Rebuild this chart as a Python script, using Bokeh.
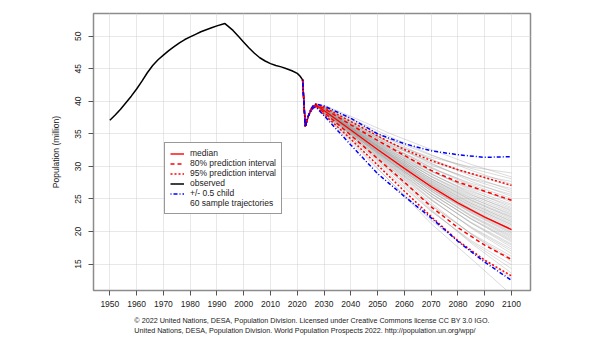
import math
from bokeh.plotting import figure
from bokeh.models import Range1d, FixedTicker, Legend, LegendItem, Title
from bokeh.embed import file_html
from bokeh.resources import INLINE

FONT = "Liberation Sans"

# ---------------- data ----------------
obs_years = [1950, 1952, 1954, 1956, 1958, 1960, 1962, 1964, 1966, 1968, 1970,
             1972, 1974, 1976, 1978, 1980, 1982, 1984, 1986, 1988, 1990, 1992,
             1993, 1994, 1996, 1998, 2000, 2002, 2004, 2006, 2008, 2010, 2012,
             2014, 2016, 2018, 2020, 2021, 2022]
obs_pop = [37.1, 37.9, 38.8, 39.8, 40.8, 41.9, 43.1, 44.4, 45.5, 46.4, 47.1,
           47.8, 48.4, 49.0, 49.5, 49.9, 50.3, 50.7, 51.0, 51.3, 51.6, 51.85,
           51.95, 51.6, 50.9, 50.0, 49.1, 48.2, 47.4, 46.7, 46.2, 45.8, 45.5,
           45.3, 45.0, 44.7, 44.3, 43.9, 43.3]

proj_years = [2022, 2023, 2024, 2025, 2026, 2027, 2030, 2040, 2050, 2060, 2070, 2080, 2090, 2100]
median   = [43.3, 36.1, 37.6, 38.6, 39.2, 39.4, 38.6, 35.6, 32.6, 29.7, 26.9, 24.4, 22.2, 20.3]
pi80_up  = [43.3, 36.1, 37.6, 38.7, 39.3, 39.5, 38.9, 36.4, 34.0, 31.7, 29.4, 27.6, 26.2, 24.8]
pi80_low = [43.3, 36.1, 37.6, 38.5, 39.1, 39.3, 38.3, 34.8, 31.2, 27.6, 23.8, 20.6, 17.9, 15.7]
pi95_up  = [43.3, 36.1, 37.6, 38.7, 39.3, 39.6, 39.1, 36.9, 34.7, 32.6, 30.9, 29.5, 28.3, 27.1]
pi95_low = [43.3, 36.1, 37.6, 38.5, 39.1, 39.2, 38.0, 34.2, 30.2, 26.2, 22.3, 18.6, 15.6, 13.2]
child_up = [43.3, 36.1, 37.6, 38.8, 39.4, 39.6, 39.3, 37.4, 35.0, 33.5, 32.4, 31.8, 31.4, 31.5]
child_low = [43.3, 36.1, 37.6, 38.4, 39.0, 39.1, 37.8, 33.3, 28.9, 25.4, 22.1, 18.5, 15.3, 12.5]

# 60 sample trajectories: common start, then one value per trajectory at each year
traj_head_years = [2022, 2023, 2024, 2025, 2026, 2027]
traj_head = [43.3, 36.1, 37.6, 38.6, 39.2, 39.4]
traj_years = [2030, 2040, 2055, 2070, 2085, 2100]
traj_2030 = [38.1, 37.9, 38.3, 38.2, 38.1, 38.4, 38.3, 38.2, 38.5, 38.4,
             38.3, 38.5, 38.4, 38.4, 38.5, 38.5, 38.5, 38.5, 38.5, 38.5,
             38.6, 38.6, 38.6, 38.6, 38.8, 38.4, 38.6, 38.6, 38.7, 38.6,
             38.7, 38.7, 38.7, 38.7, 38.8, 38.7, 38.7, 38.8, 38.7, 38.8,
             38.9, 38.7, 38.8, 38.9, 38.7, 38.9, 39.0, 38.8, 38.9, 39.1,
             38.8, 39.0, 39.2, 38.9, 39.1, 39.3, 39.0, 39.1, 39.4, 39.0]
traj_2040 = [34.0, 33.7, 34.8, 34.5, 34.2, 35.0, 34.8, 34.5, 35.2, 35.0,
             34.8, 35.3, 35.2, 35.0, 35.4, 35.3, 35.2, 35.4, 35.4, 35.4,
             35.5, 35.5, 35.5, 35.6, 36.0, 35.1, 35.6, 35.7, 35.8, 35.7,
             35.8, 35.9, 35.8, 35.9, 36.0, 35.8, 36.0, 36.2, 35.9, 36.1,
             36.3, 36.0, 36.2, 36.5, 36.0, 36.3, 36.7, 36.1, 36.5, 36.9,
             36.2, 36.6, 37.2, 36.4, 36.8, 37.4, 36.5, 37.0, 37.7, 36.6]
traj_2055 = [27.6, 27.6, 29.2, 28.8, 28.5, 29.7, 29.4, 29.1, 30.1, 29.9,
             29.7, 30.3, 30.2, 30.0, 30.6, 30.5, 30.4, 30.7, 30.7, 30.7,
             30.9, 30.9, 30.9, 31.0, 31.6, 30.6, 31.2, 31.3, 31.4, 31.3,
             31.5, 31.7, 31.5, 31.7, 31.9, 31.6, 31.9, 32.2, 31.8, 32.1,
             32.4, 31.9, 32.3, 32.7, 32.1, 32.6, 33.1, 32.4, 32.9, 33.5,
             32.6, 33.3, 34.0, 32.9, 33.6, 34.5, 33.2, 34.1, 35.0, 33.5]
traj_2070 = [21.2, 21.7, 23.4, 23.2, 23.1, 24.4, 24.1, 24.0, 25.0, 24.9,
             24.8, 25.5, 25.4, 25.4, 25.9, 25.8, 25.8, 26.2, 26.2, 26.3,
             26.5, 26.6, 26.6, 26.8, 27.2, 26.5, 27.1, 27.2, 27.4, 27.3,
             27.5, 27.7, 27.6, 27.8, 28.1, 27.9, 28.1, 28.4, 28.1, 28.5,
             28.9, 28.5, 28.9, 29.3, 28.8, 29.3, 29.8, 29.2, 29.9, 30.5,
             29.7, 30.4, 31.1, 30.2, 31.1, 31.8, 30.7, 31.7, 32.6, 31.4]
traj_2085 = [15.8, 16.9, 18.2, 18.4, 18.6, 19.6, 19.6, 19.7, 20.5, 20.6,
             20.7, 21.3, 21.3, 21.4, 21.9, 21.9, 22.0, 22.3, 22.4, 22.5,
             22.8, 22.9, 23.0, 23.1, 23.4, 23.2, 23.5, 23.7, 23.9, 23.9,
             24.1, 24.3, 24.3, 24.5, 24.8, 24.7, 24.9, 25.2, 25.1, 25.4,
             25.7, 25.6, 25.9, 26.3, 26.1, 26.5, 27.0, 26.7, 27.2, 27.7,
             27.4, 28.0, 28.5, 28.1, 28.8, 29.4, 28.9, 29.7, 30.3, 29.9]
traj_2100 = [10.3, 12.9, 13.6, 14.3, 14.9, 15.4, 15.8, 16.2, 16.6, 17.0,
             17.3, 17.6, 17.9, 18.1, 18.4, 18.6, 18.8, 19.0, 19.2, 19.4,
             19.6, 19.8, 19.9, 20.1, 20.3, 20.4, 20.6, 20.8, 21.0, 21.1,
             21.3, 21.5, 21.6, 21.8, 22.0, 22.2, 22.3, 22.5, 22.7, 22.9,
             23.1, 23.3, 23.5, 23.7, 24.0, 24.2, 24.5, 24.8, 25.1, 25.4,
             25.7, 26.0, 26.3, 26.6, 27.0, 27.3, 27.7, 28.1, 28.4, 29.0]

x_ticks = [1950, 1960, 1970, 1980, 1990, 2000, 2010, 2020, 2030, 2040,
           2050, 2060, 2070, 2080, 2090, 2100]
y_ticks = [15, 20, 25, 30, 35, 40, 45, 50]

caption_1 = "\u00a9 2022 United Nations, DESA, Population Division. Licensed under Creative Commons license CC BY 3.0 IGO."
caption_2 = "United Nations, DESA, Population Division. World Population Prospects 2022. http://population.un.org/wpp/"

# ---------------- figure ----------------
p = figure(width=602, height=340,
           x_range=Range1d(1943.9, 2107.1), y_range=Range1d(10.94, 53.5),
           output_backend="svg", toolbar_location=None,
           min_border_left=93, min_border_right=72, min_border_top=13, min_border_bottom=49)
p.background_fill_color = "white"
p.border_fill_color = "white"
p.outline_line_color = "#8c8c8c"
p.outline_line_width = 1.5

p.xaxis.ticker = FixedTicker(ticks=x_ticks)
p.yaxis.ticker = FixedTicker(ticks=y_ticks)
p.grid.grid_line_color = "#d0d0d0"
p.grid.grid_line_dash = "1 1"
p.grid.grid_line_width = 1

p.axis.axis_line_color = None
p.axis.major_tick_line_color = "#555555"
p.axis.major_tick_out = 5
p.axis.major_tick_in = 0
p.axis.minor_tick_line_color = None
p.axis.major_label_text_font = FONT
p.axis.major_label_text_font_size = "8.5px"
p.axis.major_label_text_color = "#222222"
p.xaxis.major_label_standoff = 5
p.yaxis.major_label_standoff = 7
p.yaxis.major_label_orientation = "parallel"
p.yaxis.axis_label = "Population (million)"
p.yaxis.axis_label_text_font = FONT
p.yaxis.axis_label_text_font_size = "8.5px"
p.yaxis.axis_label_text_font_style = "normal"
p.yaxis.axis_label_text_color = "#222222"
p.yaxis.axis_label_standoff = 12

# trajectories
xs = [traj_head_years + traj_years for _ in traj_2100]
ys = [traj_head + [a, b, c, d, e, f] for a, b, c, d, e, f in
      zip(traj_2030, traj_2040, traj_2055, traj_2070, traj_2085, traj_2100)]
p.multi_line(xs=xs, ys=ys, line_color="#9a9a9a", line_alpha=0.45, line_width=0.8)
traj_key = p.line(x=[], y=[], line_color="#bdbdbd", line_width=2)

r_med = p.line(proj_years, median, line_color="red", line_width=1.4)
r80 = p.line(proj_years, pi80_up, line_color="red", line_width=1.5, line_dash="4 3")
p.line(proj_years, pi80_low, line_color="red", line_width=1.5, line_dash="4 3")
r95 = p.line(proj_years, pi95_up, line_color="red", line_width=1.5, line_dash="2 2")
p.line(proj_years, pi95_low, line_color="red", line_width=1.5, line_dash="2 2")
r_obs = p.line(obs_years, obs_pop, line_color="black", line_width=1.5)
r_ch = p.line(proj_years, child_up, line_color="blue", line_width=1.5, line_dash="1 2 4 2")
p.line(proj_years, child_low, line_color="blue", line_width=1.5, line_dash="1 2 4 2")

legend = Legend(items=[
    LegendItem(label="median", renderers=[r_med]),
    LegendItem(label="80% prediction interval", renderers=[r80]),
    LegendItem(label="95% prediction interval", renderers=[r95]),
    LegendItem(label="observed", renderers=[r_obs]),
    LegendItem(label="+/- 0.5 child", renderers=[r_ch]),
    LegendItem(label="60 sample trajectories", renderers=[traj_key]),
], location=(71, 76))
legend.border_line_color = "#333333"
legend.border_line_width = 1
legend.background_fill_color = "white"
legend.background_fill_alpha = 1
legend.label_text_font = FONT
legend.label_text_font_size = "8.5px"
legend.label_text_color = "#222222"
legend.glyph_width = 14
legend.glyph_height = 9
legend.label_height = 9
legend.spacing = 0
legend.padding = 5
legend.margin = 0
legend.label_standoff = 6
p.add_layout(legend)

p.add_layout(Title(text=caption_1 + "\n" + caption_2, align="center", offset=-10,
                   standoff=10, text_line_height=1.15,
                   text_font=FONT, text_font_size="7.2px", text_font_style="normal",
                   text_color="#222222"), "below")

open("out.html", "w").write(file_html(p, INLINE))
